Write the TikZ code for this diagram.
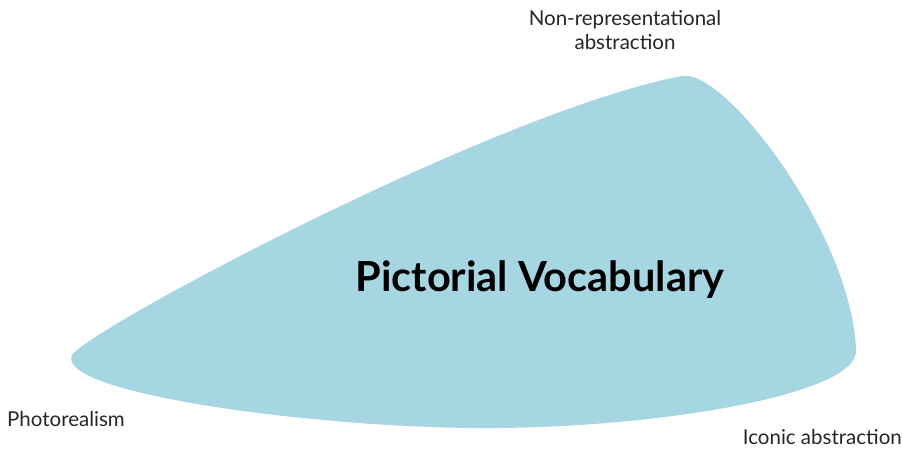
\documentclass[tikz,border=0pt]{standalone}
\usepackage{fontspec}
\setmainfont{Lato}
\definecolor{vocab}{HTML}{A7D6E3}
\tikzset{blob/.style={fill=vocab,draw=none},
 corner/.style={font=\fontsize{20.5}{24}\selectfont,text=black!85,inner sep=0pt,align=center},
 title/.style={font=\fontsize{41.5}{46}\selectfont\bfseries,inner sep=0pt}}

\begin{document}
\begin{tikzpicture}[x=1pt,y=-1pt]
 \useasboundingbox (0,0) rectangle (902,452);
 \fill[blob] (72,355) .. controls (90,328) and (500,110) .. (682,76)
  .. controls (725,68) and (852,235) .. (856,350)
  .. controls (860,395) and (650,430) .. (470,428)
  .. controls (300,426) and (55,392) .. (72,355);
 \node[title] (vocab) at (540,280) {Pictorial Vocabulary};
 \node[corner] (nonrep) at (625,30) {Non-representational\\abstraction};
 \node[corner,anchor=west] (photo) at (7,419) {Photorealism};
 \node[corner,anchor=east] (iconic) at (902,437) {Iconic abstraction};
\end{tikzpicture}
\end{document}
